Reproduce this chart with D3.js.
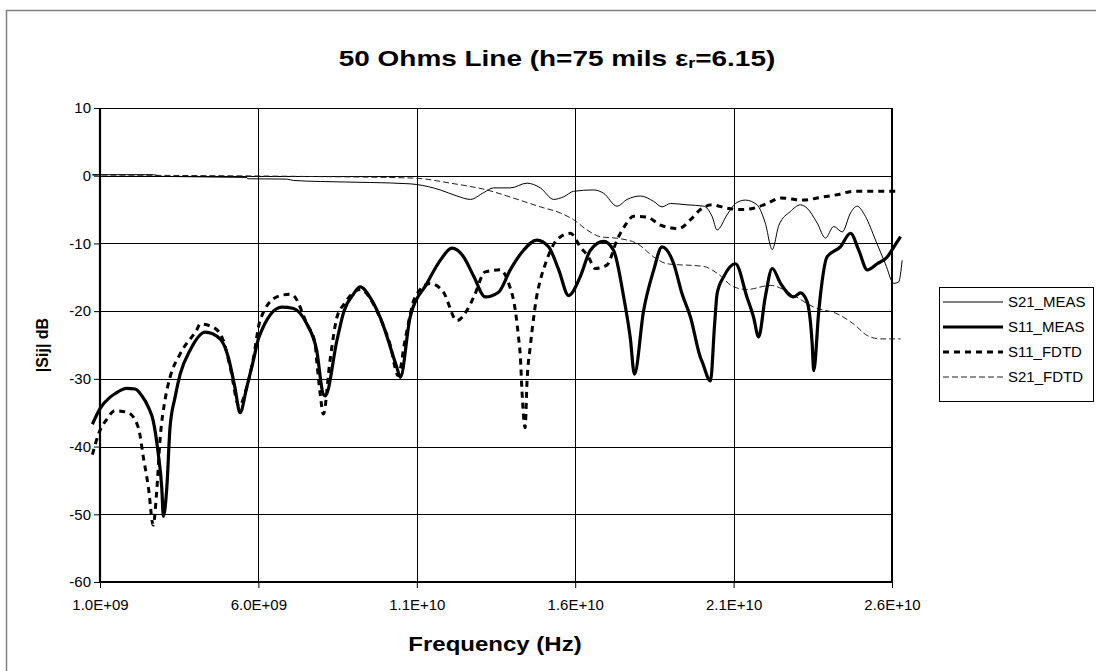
<!DOCTYPE html>
<html lang="en">
<head>
  <meta charset="UTF-8">
  <title>50 Ohms Line</title>
  <script src="https://d3js.org/d3.v7.min.js"></script>
  <style type="text/css">
    html, body { margin: 0; padding: 0; overflow: hidden; background: #fff; }
    svg { display: block; }
    text { font-family: Arial, "Liberation Sans", sans-serif; fill: #000; }
    .grid { stroke: #000; stroke-width: 1; shape-rendering: crispEdges; }
    .line { fill: none; stroke: #000; stroke-linejoin: round; }
    .s21meas { stroke-width: 1; }
    .s11meas { stroke-width: 3.2; }
    .s11fdtd { stroke-width: 3; stroke-dasharray: 6,5; }
    .s21fdtd { stroke-width: 1; stroke-dasharray: 6,3; stroke: #222; }
  </style>
</head>
<body>
<script>

  // frequency in GHz, magnitude in dB
  var s21Meas = [
    [0.76,0.15],[2.68,0.15],[2.90,-0.1],[5.63,-0.25],[5.66,-0.45],[6.90,-0.5],[7.11,-0.7],
    [7.95,-0.85],[9.53,-1.0],[10.79,-1.2],[11.0,-1.3],[11.74,-2.1],[12.27,-3.0],[12.69,-3.5],
    [13.11,-2.5],[13.42,-1.8],[13.95,-1.8],[14.48,-1.1],[14.90,-1.8],[15.32,-3.5],[15.64,-3.1],
    [15.95,-2.3],[16.58,-2.1],[16.90,-2.6],[17.32,-4.5],[17.64,-3.5],[18.06,-3.0],[18.48,-3.8],
    [18.74,-4.6],[19.01,-4.1],[19.53,-4.3],[20.06,-4.5],[20.32,-6],[20.48,-8],[20.79,-5.8],
    [21.06,-4.1],[21.37,-3.6],[21.74,-4.3],[22.0,-7],[22.22,-10.9],[22.43,-7.3],[22.79,-5.3],
    [23.11,-4.3],[23.32,-4.8],[23.64,-7],[23.90,-9.2],[24.16,-7.5],[24.43,-8.3],[24.69,-5.5],
    [24.90,-4.5],[25.16,-6],[25.48,-9.5],[25.79,-13],[26.06,-15.9],[26.21,-15.7],[26.32,-12.5]
  ];

  var s11Meas = [
    [0.76,-36.7],[1.0,-34.4],[1.32,-32.7],[1.47,-32.2],[1.84,-31.4],[2.11,-31.5],[2.32,-32.5],
    [2.53,-34.2],[2.68,-36.2],[2.84,-41.1],[2.95,-46.1],[3.0,-50.3],[3.11,-46.0],[3.21,-37.2],
    [3.37,-32.7],[3.53,-29.3],[3.84,-25.8],[4.32,-23.1],[4.79,-24.1],[5.05,-26.8],[5.26,-31.3],
    [5.42,-35.0],[5.63,-31.3],[5.84,-27.3],[6.02,-23.8],[6.74,-19.4],[7.11,-19.6],[7.53,-21.9],
    [7.84,-25.8],[8.05,-32.3],[8.11,-32.5],[8.48,-24.3],[8.7,-20],[9.0,-17.5],[9.21,-16.4],
    [9.53,-18],[9.84,-20.9],[10.37,-28.3],[10.48,-29.8],[10.79,-20.9],[11.32,-15.9],[11.74,-12.5],
    [12.11,-10.7],[12.48,-12],[12.80,-14.9],[13.16,-17.9],[13.58,-17.2],[13.95,-13.9],[14.37,-11],
    [14.79,-9.5],[15.16,-10.5],[15.48,-13.9],[15.79,-17.7],[16.16,-14.9],[16.48,-11],[16.90,-9.7],
    [17.21,-11],[17.53,-17.9],[17.74,-24],[17.87,-29.3],[18.16,-19.9],[18.48,-13.9],[18.74,-10.5],
    [19.11,-13],[19.37,-17.4],[19.64,-20.9],[19.95,-26.8],[20.01,-27.5],[20.27,-30.3],[20.4,-22],
    [20.48,-17.4],[20.69,-14.9],[21.06,-13],[21.42,-17.9],[21.63,-20.9],[21.79,-23.8],[22.0,-17.9],
    [22.22,-13.7],[22.48,-15.9],[22.90,-17.9],[23.11,-17.3],[23.32,-18.6],[23.48,-24.8],[23.53,-28.8],
    [23.69,-19.9],[23.95,-12],[24.37,-10.5],[24.69,-8.5],[24.95,-11],[25.22,-13.9],[25.53,-13],
    [25.85,-12],[26.06,-10.5],[26.27,-9]
  ];

  var s11Fdtd = [
    [0.76,-41.2],[0.95,-38.2],[1.21,-36],[1.47,-34.7],[1.89,-35],[2.21,-37.2],[2.37,-41.6],
    [2.53,-46.1],[2.68,-51.6],[2.79,-46.6],[2.90,-38.7],[3.05,-33.2],[3.21,-29.8],[3.53,-26.3],
    [4.05,-22.8],[4.16,-21.9],[4.58,-22.4],[4.89,-24.3],[5.11,-28.3],[5.39,-34],[5.63,-31.3],
    [5.84,-27],[6.05,-21.4],[6.58,-17.9],[7.0,-17.5],[7.11,-17.7],[7.53,-21.9],[7.79,-24.8],
    [7.84,-27.3],[7.95,-32.2],[8.05,-35.2],[8.26,-27.3],[8.48,-20.9],[8.7,-19],[9.21,-16.8],
    [9.84,-21],[10.16,-25],[10.41,-29.5],[10.64,-24],[10.95,-17.9],[11.42,-15.9],[11.84,-17.2],
    [12.27,-21.4],[12.58,-19.9],[12.80,-17.9],[13.16,-14.2],[13.63,-13.9],[13.90,-15.9],[14.11,-19.9],
    [14.21,-23.8],[14.27,-26.8],[14.32,-31.8],[14.42,-37.2],[14.48,-30.3],[14.58,-25.3],[14.64,-22.8],
    [14.79,-17.7],[14.90,-15.4],[15.06,-13],[15.42,-9.5],[15.85,-8.5],[16.16,-10.5],[16.42,-12],
    [16.63,-13.7],[17.0,-13.2],[17.32,-9.5],[17.58,-7.3],[17.84,-6],[18.27,-6.1],[18.69,-7.3],
    [19.27,-7.8],[19.64,-6.5],[19.95,-5],[20.32,-4.3],[20.79,-4.8],[21.21,-5],[21.63,-4.8],
    [22.06,-4.1],[22.48,-3.3],[23.21,-3.6],[23.74,-3.2],[24.27,-2.8],[24.79,-2.3],[25.64,-2.3],
    [26.21,-2.3]
  ];

  var s21Fdtd = [
    [0.76,0.1],[3.0,0.05],[7.3,-0.1],[10.9,-0.35],[12.06,-1.1],[13.21,-2.1],[14.05,-3.3],
    [14.90,-4.6],[15.53,-5.5],[15.95,-6.5],[16.37,-8],[16.79,-9],[17.42,-9.3],[17.95,-10],
    [18.48,-12],[18.90,-13],[20.06,-13.4],[20.48,-14.4],[21.0,-16.4],[21.42,-16.8],[22.16,-16.2],
    [22.90,-17.7],[23.53,-19.4],[24.27,-20.4],[24.79,-21.9],[25.22,-23.6],[25.64,-24.1],[26.27,-24.1]
  ];

  var xTicks = [1.0e9, 6.0e9, 1.1e10, 1.6e10, 2.1e10, 2.6e10];
  var yTicks = [10, 0, -10, -20, -30, -40, -50, -60];

  var series = [
    {name: "S21_MEAS", cls: "s21meas", data: s21Meas},
    {name: "S11_MEAS", cls: "s11meas", data: s11Meas},
    {name: "S11_FDTD", cls: "s11fdtd", data: s11Fdtd},
    {name: "S21_FDTD", cls: "s21fdtd", data: s21Fdtd}
  ];

  var W = 1096, H = 671;
  var plot = {left: 100, right: 892, top: 108, bottom: 582};

  var xScale = d3.scaleLinear()
    .domain([1e9, 2.6e10])
    .range([plot.left, plot.right]);

  var yScale = d3.scaleLinear()
    .domain([-60, 10])
    .range([plot.bottom, plot.top]);

  // 1.0E+09 style labels
  function sci(d) {
    var e = Math.floor(Math.log10(d));
    var m = d / Math.pow(10, e);
    return m.toFixed(1) + "E+" + (e < 10 ? "0" + e : e);
  }

  var svg = d3.select("body").append("svg")
    .attr("width", W)
    .attr("height", H);

  // chart frame: only the left and top edges are inside the picture
  svg.append("path")
    .attr("d", "M6.5," + (H + 10) + "V10.5H" + (W + 10))
    .attr("fill", "none")
    .attr("stroke", "#808080")
    .attr("stroke-width", 1.5);

  // title (text in the original is drawn wide, so stretch it sideways)
  var title = svg.append("text")
    .attr("transform", "translate(557,66) scale(1.3,1)")
    .attr("text-anchor", "middle")
    .attr("font-size", "21.5px")
    .attr("font-weight", "bold");
  title.append("tspan").text("50 Ohms Line (h=75 mils \u03b5");
  title.append("tspan").attr("font-size", "14px").attr("dy", 2).text("r");
  title.append("tspan").attr("dy", -2).text("=6.15)");

  // gridlines
  svg.append("g")
    .selectAll("line")
    .data(yTicks.filter(function(d) { return d > -60; }))
    .enter().append("line")
    .attr("class", "grid")
    .attr("x1", plot.left).attr("x2", plot.right)
    .attr("y1", function(d) { return Math.round(yScale(d)) + 0.5; })
    .attr("y2", function(d) { return Math.round(yScale(d)) + 0.5; });

  svg.append("g")
    .selectAll("line")
    .data(xTicks.slice(1, -1))
    .enter().append("line")
    .attr("class", "grid")
    .attr("y1", plot.top).attr("y2", plot.bottom)
    .attr("x1", function(d) { return Math.round(xScale(d)) + 0.5; })
    .attr("x2", function(d) { return Math.round(xScale(d)) + 0.5; });

  // right edge line (thicker, like the axes)
  svg.append("line")
    .attr("x1", xScale(2.6e10)).attr("x2", xScale(2.6e10))
    .attr("y1", plot.top).attr("y2", plot.bottom + 1)
    .attr("stroke", "#000").attr("stroke-width", 2);

  // axes
  var xAxis = d3.axisBottom(xScale)
    .tickValues(xTicks)
    .tickFormat(sci)
    .tickSize(6)
    .tickPadding(8);

  var yAxis = d3.axisLeft(yScale)
    .tickValues(yTicks)
    .tickFormat(function(d) { return String(d); })
    .tickSize(6)
    .tickPadding(3);

  var gx = svg.append("g")
    .attr("transform", "translate(0," + plot.bottom + ")")
    .call(xAxis);
  var gy = svg.append("g")
    .attr("transform", "translate(" + plot.left + ",0)")
    .call(yAxis);

  [gx, gy].forEach(function(g) {
    g.attr("font-family", null).attr("font-size", null);
    g.select(".domain").attr("stroke", "#000").attr("stroke-width", 2.2);
    g.selectAll(".tick line").attr("stroke", "#000").attr("stroke-width", 1);
    g.selectAll(".tick text")
      .style("font-size", "15px")
      .attr("fill", "#000");
  });
  gx.selectAll(".tick text").attr("dy", "0.95em");
  gx.select(".domain").attr("d", "M" + plot.left + ",0H" + plot.right);
  gy.select(".domain").attr("d", "M0," + plot.top + "V" + plot.bottom);

  // axis titles
  svg.append("text")
    .attr("transform", "translate(495,651) scale(1.2,1)")
    .attr("text-anchor", "middle")
    .attr("font-size", "20px")
    .attr("font-weight", "bold")
    .text("Frequency (Hz)");

  svg.append("text")
    .attr("transform", "translate(48,345) rotate(-90)")
    .attr("text-anchor", "middle")
    .attr("font-size", "16px")
    .attr("font-weight", "bold")
    .text("|Sij| dB");

  // lines
  var line = d3.line()
    .x(function(d) { return xScale(d[0] * 1e9); })
    .y(function(d) { return yScale(d[1]); })
    .curve(d3.curveMonotoneX);

  // draw order: thin ones under the thick ones
  [series[3], series[0], series[2], series[1]].forEach(function(s) {
    svg.append("path")
      .datum(s.data)
      .attr("class", "line " + s.cls)
      .attr("d", line);
  });

  // legend
  var legend = svg.append("g");
  legend.append("rect")
    .attr("x", 939.5).attr("y", 287.5)
    .attr("width", 154).attr("height", 114)
    .attr("fill", "#fff")
    .attr("stroke", "#000")
    .attr("stroke-width", 1);

  var rows = legend.selectAll("g")
    .data(series)
    .enter().append("g")
    .attr("transform", function(d, i) { return "translate(0," + (302 + i * 25) + ")"; });

  rows.append("line")
    .attr("class", function(d) { return "line " + d.cls; })
    .attr("x1", 943).attr("x2", 1003)
    .attr("y1", 0).attr("y2", 0);

  rows.append("text")
    .attr("x", 1008)
    .attr("y", 5)
    .attr("font-size", "15px")
    .text(function(d) { return d.name; });

</script>
</body>
</html>
